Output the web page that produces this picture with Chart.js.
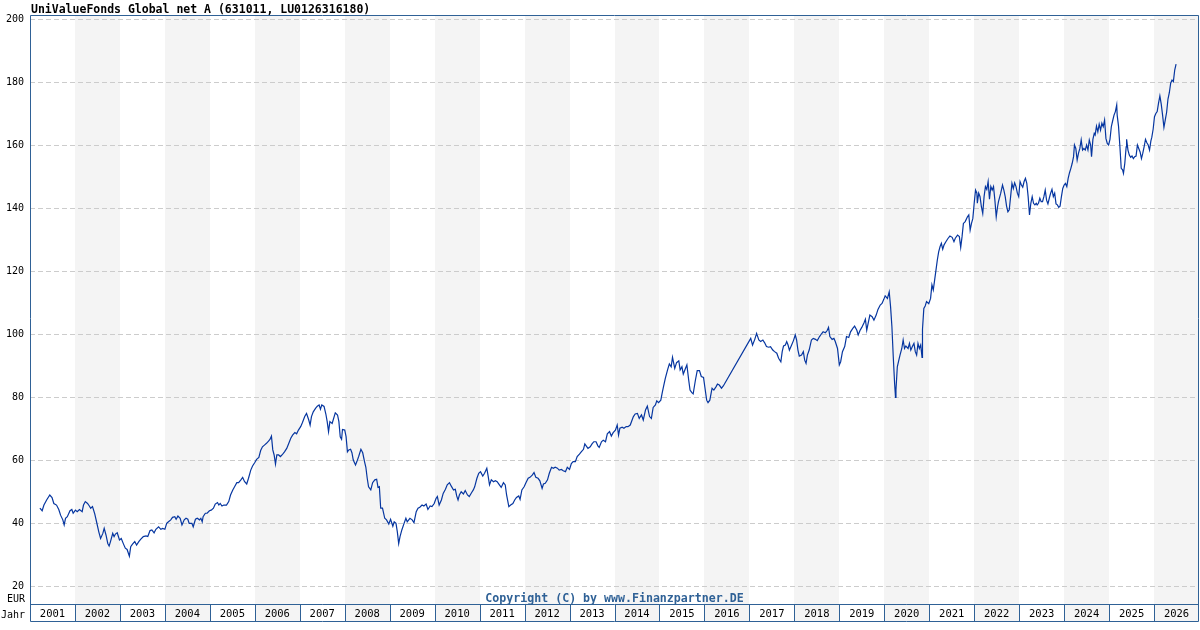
<!DOCTYPE html>
<html>
<head>
<meta charset="utf-8">
<script src="https://cdn.jsdelivr.net/npm/chart.js@4"></script>
<style>
body{margin:0;background:#fff;}
canvas{display:block;}
</style>
</head>
<body>
<canvas id="Charts" width="1200" height="630"></canvas>
<script>
var title='UniValueFonds Global net A (631011, LU0126316180)';
var copyright='Copyright (C) by www.Finanzpartner.DE';
var unitLabel='EUR';
var yearLabel='Jahr';
var years=[2001,2002,2003,2004,2005,2006,2007,2008,2009,2010,2011,2012,2013,2014,2015,2016,2017,2018,2019,2020,2021,2022,2023,2024,2025,2026];
var yTicks=[20,40,60,80,100,120,140,160,180,200];

// decimal years
var dates=[
2001.22,2001.27,2001.31,2001.37,2001.44,2001.49,2001.53,2001.59,2001.64,2001.68,2001.73,2001.76,2001.79,2001.83,2001.89,2001.93,2001.96,
2002.01,2002.05,2002.10,2002.16,2002.19,2002.23,2002.28,2002.32,2002.35,2002.39,2002.44,2002.48,2002.53,2002.57,2002.62,2002.65,2002.69,2002.73,2002.76,2002.79,2002.84,2002.87,2002.90,2002.94,2002.99,
2003.03,2003.08,2003.12,2003.16,2003.21,2003.24,2003.28,2003.33,2003.37,2003.42,2003.46,2003.52,2003.58,2003.62,2003.67,2003.71,2003.76,2003.80,2003.86,2003.91,2003.95,
2004.00,2004.04,2004.08,2004.13,2004.17,2004.22,2004.25,2004.29,2004.34,2004.38,2004.43,2004.47,2004.51,2004.54,2004.60,2004.63,2004.68,2004.72,2004.77,2004.80,2004.83,2004.85,2004.90,2004.94,2004.99,
2005.03,2005.08,2005.12,2005.17,2005.20,2005.23,2005.27,2005.31,2005.37,2005.42,2005.46,2005.51,2005.55,2005.60,2005.64,2005.69,2005.73,2005.77,2005.82,2005.86,2005.91,2005.95,
2006.00,2006.04,2006.09,2006.13,2006.17,2006.22,2006.26,2006.31,2006.34,2006.37,2006.40,2006.43,2006.46,2006.49,2006.53,2006.57,2006.62,2006.66,2006.71,2006.75,2006.80,2006.84,2006.89,2006.93,2006.97,
2007.02,2007.06,2007.11,2007.15,2007.20,2007.23,2007.26,2007.30,2007.35,2007.39,2007.43,2007.46,2007.49,2007.54,2007.58,2007.61,2007.64,2007.67,2007.72,2007.79,2007.84,2007.87,2007.90,2007.93,2007.95,
2008.00,2008.03,2008.06,2008.09,2008.13,2008.16,2008.19,2008.24,2008.27,2008.31,2008.36,2008.40,2008.44,2008.47,2008.50,2008.53,2008.58,2008.62,2008.67,2008.71,2008.74,2008.77,2008.80,2008.84,2008.89,2008.93,2008.98,
2009.02,2009.07,2009.10,2009.14,2009.17,2009.20,2009.23,2009.27,2009.32,2009.36,2009.39,2009.45,2009.50,2009.54,2009.59,2009.63,2009.67,2009.72,2009.76,2009.81,2009.85,2009.90,2009.94,2009.99,
2010.03,2010.06,2010.10,2010.15,2010.19,2010.24,2010.28,2010.33,2010.37,2010.42,2010.46,2010.49,2010.52,2010.55,2010.59,2010.64,2010.68,2010.73,2010.77,2010.82,2010.86,2010.89,2010.94,2010.98,
2011.02,2011.07,2011.11,2011.16,2011.19,2011.22,2011.26,2011.31,2011.35,2011.39,2011.44,2011.48,2011.53,2011.57,2011.60,2011.65,2011.69,2011.74,2011.78,2011.82,2011.87,2011.90,2011.94,2011.99,
2012.03,2012.08,2012.12,2012.17,2012.21,2012.25,2012.30,2012.34,2012.39,2012.42,2012.46,2012.51,2012.55,2012.60,2012.64,2012.68,2012.73,2012.77,2012.82,2012.86,2012.91,2012.95,
2013.00,2013.04,2013.08,2013.13,2013.17,2013.22,2013.26,2013.31,2013.34,2013.37,2013.41,2013.46,2013.50,2013.54,2013.59,2013.63,2013.66,2013.71,2013.75,2013.80,2013.84,2013.89,2013.93,2013.97,
2014.02,2014.06,2014.09,2014.12,2014.17,2014.21,2014.26,2014.30,2014.35,2014.42,2014.46,2014.51,2014.55,2014.60,2014.64,2014.69,2014.73,2014.78,2014.82,2014.86,2014.91,2014.94,2014.98,
2015.03,2015.06,2015.09,2015.13,2015.18,2015.22,2015.26,2015.29,2015.34,2015.38,2015.43,2015.46,2015.50,2015.53,2015.58,2015.61,2015.65,2015.68,2015.72,2015.75,2015.80,2015.84,2015.89,2015.93,2015.98,
2016.01,2016.05,2016.08,2016.12,2016.17,2016.21,2016.26,2016.29,2016.33,2016.38,2016.42,
2017.03,2017.07,2017.12,2017.16,2017.21,2017.25,2017.30,2017.34,2017.38,2017.43,2017.47,2017.52,2017.56,2017.61,2017.65,2017.70,2017.73,2017.76,2017.80,2017.83,2017.86,2017.89,2017.93,2017.98,
2018.02,2018.05,2018.08,2018.11,2018.16,2018.20,2018.23,2018.26,2018.29,2018.33,2018.38,2018.42,2018.47,2018.51,2018.56,2018.60,2018.64,2018.69,2018.73,2018.76,2018.79,2018.84,2018.88,2018.91,2018.96,
2019.00,2019.03,2019.07,2019.12,2019.16,2019.21,2019.25,2019.30,2019.34,2019.39,2019.42,2019.46,2019.50,2019.55,2019.58,2019.61,2019.64,2019.68,2019.73,2019.77,2019.82,2019.86,2019.91,2019.95,2019.99,
2020.02,2020.07,2020.11,2020.14,2020.17,2020.20,2020.23,2020.25,2020.26,2020.29,2020.32,2020.35,2020.39,2020.42,2020.45,2020.48,2020.53,2020.56,2020.59,2020.63,2020.66,2020.69,2020.72,2020.75,2020.78,2020.81,2020.84,2020.85,2020.88,2020.91,2020.94,2020.99,
2021.03,2021.06,2021.09,2021.12,2021.15,2021.18,2021.21,2021.24,2021.27,2021.30,2021.33,2021.37,2021.42,2021.46,2021.51,2021.55,2021.58,2021.63,2021.67,2021.70,2021.73,2021.76,2021.80,2021.85,2021.88,2021.91,2021.94,2021.97,
2022.00,2022.03,2022.06,2022.07,2022.10,2022.13,2022.16,2022.19,2022.22,2022.25,2022.28,2022.31,2022.34,2022.37,2022.40,2022.43,2022.46,2022.49,2022.52,2022.54,2022.59,2022.63,2022.66,2022.69,2022.72,2022.75,2022.78,2022.81,2022.84,2022.87,2022.90,2022.93,2022.96,2022.99,
2023.02,2023.05,2023.08,2023.11,2023.14,2023.17,2023.20,2023.23,2023.26,2023.29,2023.32,2023.35,2023.38,2023.40,2023.43,2023.46,2023.49,2023.52,2023.55,2023.58,2023.61,2023.64,2023.67,2023.70,2023.73,2023.76,2023.79,2023.82,2023.85,2023.88,2023.91,2023.94,2023.97,
2024.00,2024.03,2024.06,2024.09,2024.12,2024.15,2024.18,2024.21,2024.23,2024.26,2024.29,2024.32,2024.35,2024.38,2024.41,2024.44,2024.47,2024.50,2024.53,2024.56,2024.59,2024.61,2024.64,2024.67,2024.69,2024.72,2024.75,2024.78,2024.81,2024.84,2024.87,2024.90,2024.93,2024.96,2024.99,
2025.02,2025.05,2025.08,2025.11,2025.14,2025.17,2025.18,2025.21,2025.24,2025.27,2025.30,2025.32,2025.35,2025.38,2025.39,2025.42,2025.45,2025.48,2025.51,2025.54,2025.57,2025.60,2025.63,2025.66,2025.69,2025.72,2025.75,2025.78,2025.81,2025.84,2025.87,2025.90,2025.93,2025.95,2025.98,
2026.01,2026.04,2026.07,2026.10,2026.13,2026.16,2026.19,2026.22,2026.25,2026.28,2026.31,2026.34,2026.37,2026.40,2026.43,2026.46,2026.49
];

// EUR
var prices=[
44.7,43.9,45.7,47.3,48.9,48.1,46.2,45.7,44.3,42.5,41.0,39.4,41.5,42.0,43.9,44.3,43.1,
44.1,43.6,44.3,43.6,45.7,46.8,46.2,45.4,44.7,45.2,42.9,40.4,37.2,35.1,36.7,38.3,36.2,33.5,32.7,34.1,36.7,35.7,36.5,36.9,34.6,
35.1,33.3,32.0,31.6,29.5,32.5,33.3,34.1,33.0,34.1,34.8,35.7,35.9,35.7,37.6,37.8,36.9,38.0,38.8,38.0,38.3,
38.0,39.9,40.4,41.0,41.8,42.0,41.2,42.2,41.5,39.4,41.0,41.5,41.2,39.9,39.9,38.8,41.2,41.5,41.0,41.5,40.4,42.0,43.1,43.1,43.9,
44.1,44.7,46.0,46.5,45.7,46.2,45.4,45.7,45.7,46.8,48.9,50.5,51.5,52.8,52.8,53.7,54.5,53.2,52.4,54.2,56.8,58.1,
59.2,60.2,60.8,63.0,64.2,64.8,65.3,66.1,66.6,67.6,63.2,61.6,58.7,61.6,61.6,61.1,61.9,62.6,63.7,65.1,66.9,67.9,68.7,68.3,69.5,
70.6,71.9,73.8,74.8,72.7,71.1,73.8,75.3,76.4,77.1,77.5,76.1,77.5,77.0,74.6,72.2,69.0,72.2,71.6,75.0,74.3,72.2,67.4,66.6,69.7,
69.5,67.4,62.6,63.2,63.4,62.3,60.0,58.4,59.5,61.1,63.4,62.3,59.5,57.7,54.2,51.5,50.5,52.8,53.7,53.9,51.3,51.5,44.7,44.7,41.5,41.0,39.7,
41.2,39.0,40.4,39.9,37.2,33.5,35.7,37.8,39.9,41.5,40.4,41.5,41.0,40.1,43.6,44.7,45.0,45.7,45.4,46.0,44.3,45.4,45.2,46.2,
47.8,48.4,45.7,47.3,49.4,50.7,52.1,52.8,51.7,50.5,50.7,48.6,47.3,48.9,49.9,49.2,50.3,48.9,48.4,49.6,50.5,51.5,54.2,55.8,
56.3,54.9,55.8,57.4,54.9,52.1,53.7,53.1,53.4,53.1,52.1,51.3,52.8,52.1,48.9,45.2,45.7,46.2,47.3,48.1,48.6,47.5,50.5,51.5,
52.8,54.2,54.5,55.2,56.0,54.5,54.2,53.4,51.0,52.4,52.6,53.7,55.8,57.7,57.4,57.7,57.4,56.8,57.0,56.6,56.3,57.7,
57.0,58.9,59.5,59.5,61.1,61.9,62.6,63.4,65.1,64.5,63.7,64.2,65.1,65.8,65.8,64.5,64.0,65.8,66.3,65.8,68.3,69.0,67.6,68.7,
69.5,71.1,67.9,70.1,70.4,70.1,70.6,70.6,71.1,73.8,74.6,74.8,73.2,74.3,72.7,75.9,77.1,73.8,73.2,76.7,77.5,78.8,78.2,
79.0,81.2,83.3,85.9,88.6,90.5,89.6,92.6,89.1,90.9,91.5,88.6,89.6,87.3,89.1,90.2,85.4,82.2,81.4,81.0,85.4,88.4,88.4,86.5,86.2,
83.1,79.0,78.2,79.0,82.8,82.2,83.3,84.1,83.8,82.8,83.5,
98.6,96.5,98.3,100.2,98.1,97.6,98.1,97.2,96.0,95.8,96.0,94.9,94.4,93.9,92.3,91.2,94.4,96.2,96.5,97.6,96.5,94.9,96.2,97.9,
99.7,98.1,94.9,93.0,93.3,94.4,91.7,90.7,93.3,94.9,98.1,98.6,98.3,97.9,99.2,100.0,100.7,100.4,101.1,102.1,99.2,98.3,98.6,97.6,95.4,
90.2,91.2,94.4,96.0,99.2,98.9,100.7,101.8,102.5,101.2,99.7,101.1,102.1,103.6,104.7,101.2,103.3,106.0,105.5,104.4,106.0,107.8,109.2,109.7,111.0,
112.1,111.3,113.4,108.7,102.3,92.8,84.3,79.9,82.2,89.6,91.5,93.3,95.4,98.1,95.4,96.2,95.4,97.0,94.9,96.2,97.0,94.4,93.3,97.0,95.4,96.5,92.6,101.5,108.1,108.9,110.3,109.6,
111.3,115.6,114.0,117.1,120.3,123.5,126.1,127.7,128.8,126.9,128.3,129.3,130.4,131.1,130.7,129.3,130.4,131.4,130.9,127.5,130.9,135.1,135.7,137.2,137.8,133.0,135.1,136.7,
141.5,145.7,144.7,141.5,144.7,143.6,140.4,138.3,143.6,146.8,145.9,148.4,142.8,146.8,145.7,146.8,142.5,137.2,140.4,142.0,144.7,147.3,145.7,143.6,140.6,138.8,139.4,143.6,147.8,146.2,148.0,146.8,144.7,143.6,
148.4,147.3,146.6,148.4,149.4,147.8,143.6,137.8,141.5,143.6,141.5,141.0,141.5,141.0,141.5,143.1,142.0,142.0,143.6,145.7,142.5,141.3,143.1,144.7,145.9,143.6,144.7,141.3,141.0,140.2,140.6,143.6,146.2,
147.3,147.8,146.8,149.4,151.2,152.6,154.2,156.3,160.0,158.9,155.2,157.4,158.9,161.6,158.4,158.9,158.4,160.0,158.4,161.6,160.0,156.3,161.8,163.7,163.2,166.0,164.2,166.6,164.7,166.9,165.8,167.9,162.1,160.5,160.0,
161.8,165.8,167.7,169.5,170.6,172.7,169.5,166.0,159.7,152.6,152.1,151.0,154.2,159.4,161.8,158.4,156.8,156.1,156.5,155.7,156.3,156.5,160.0,158.9,157.8,155.7,157.4,159.5,161.8,160.7,160.0,158.4,161.3,162.4,165.0,
169.0,170.0,170.6,173.3,175.6,173.0,169.5,165.6,168.0,170.4,174.6,176.6,179.6,180.6,180.1,183.8,185.7
];

var frameColor='#2f6196';
var monoFont='"DejaVu Sans Mono", "Liberation Mono", monospace';

var points=[];
for(let i=0;i<dates.length;i++){
    points.push({x:dates[i],y:prices[i]});
}

var boxBottom=622;

var decor={
    id:'decor',
    beforeDraw:function(chart){
        var c=chart.ctx, a=chart.chartArea, xs=chart.scales.x;
        c.save();
        c.fillStyle='#ffffff';
        c.fillRect(0,0,chart.width,chart.height);
        c.fillStyle='#f4f4f4';
        years.forEach(function(yr){
            if(yr%2==0){
                var x1=Math.round(xs.getPixelForValue(yr));
                var x2=Math.round(xs.getPixelForValue(yr+1));
                c.fillRect(x1,a.top,x2-x1,boxBottom-a.top);
            }
        });
        c.restore();
    },
    afterDraw:function(chart){
        var c=chart.ctx, a=chart.chartArea, xs=chart.scales.x;
        c.save();
        c.strokeStyle=frameColor;
        c.lineWidth=1;
        c.beginPath();
        c.rect(a.left+0.5,a.top+0.5,a.right-a.left-1,boxBottom-a.top-1);
        c.moveTo(a.left,a.bottom+0.5);
        c.lineTo(a.right,a.bottom+0.5);
        years.forEach(function(yr){
            if(yr>years[0]){
                var x=Math.round(xs.getPixelForValue(yr))+0.5;
                c.moveTo(x,a.bottom);
                c.lineTo(x,boxBottom);
            }
        });
        c.stroke();

        c.fillStyle='#000';
        c.textBaseline='alphabetic';
        c.textAlign='left';
        c.font='bold 11.5px '+monoFont;
        c.fillText(title,31,13);

        c.font='10px '+monoFont;
        c.textAlign='right';
        c.fillText(unitLabel,25,602);
        c.fillText(yearLabel,25,618);

        c.font='bold 11.6px '+monoFont;
        c.textAlign='center';
        c.fillStyle=frameColor;
        c.fillText(copyright,(a.left+a.right)/2,602);
        c.restore();
    }
};

var ctx=document.getElementById('Charts').getContext('2d');
var myChart=new Chart(ctx,{
    type:'line',
    data:{
        datasets:[{
            data:points,
            borderColor:'#0636a0',
            borderWidth:1.2,
            pointRadius:0,
            fill:false,
            tension:0
        }]
    },
    options:{
        responsive:false,
        animation:false,
        events:[],
        layout:{padding:{top:15,right:1,left:0,bottom:0}},
        plugins:{legend:{display:false},tooltip:{enabled:false}},
        scales:{
            x:{
                type:'linear',
                min:2001,
                max:2027,
                afterFit:function(s){s.height=26;},
                afterBuildTicks:function(s){
                    s.ticks=years.map(function(y){return {value:y+0.5};});
                },
                grid:{display:false},
                border:{display:false},
                ticks:{
                    autoSkip:false,
                    maxRotation:0,
                    padding:-4,
                    color:'#000',
                    font:{family:monoFont,size:10.5},
                    callback:function(v){return String(Math.floor(v));}
                }
            },
            y:{
                min:14.29,
                max:201.27,
                afterFit:function(s){s.width=30;},
                afterBuildTicks:function(s){
                    s.ticks=yTicks.map(function(v){return {value:v};});
                },
                grid:{color:'#cccccc',lineWidth:1,drawTicks:false},
                border:{display:false,dash:[5,3]},
                ticks:{
                    padding:6,
                    color:'#000',
                    font:{family:monoFont,size:10}
                }
            }
        }
    },
    plugins:[decor]
});
</script>
</body>
</html>
